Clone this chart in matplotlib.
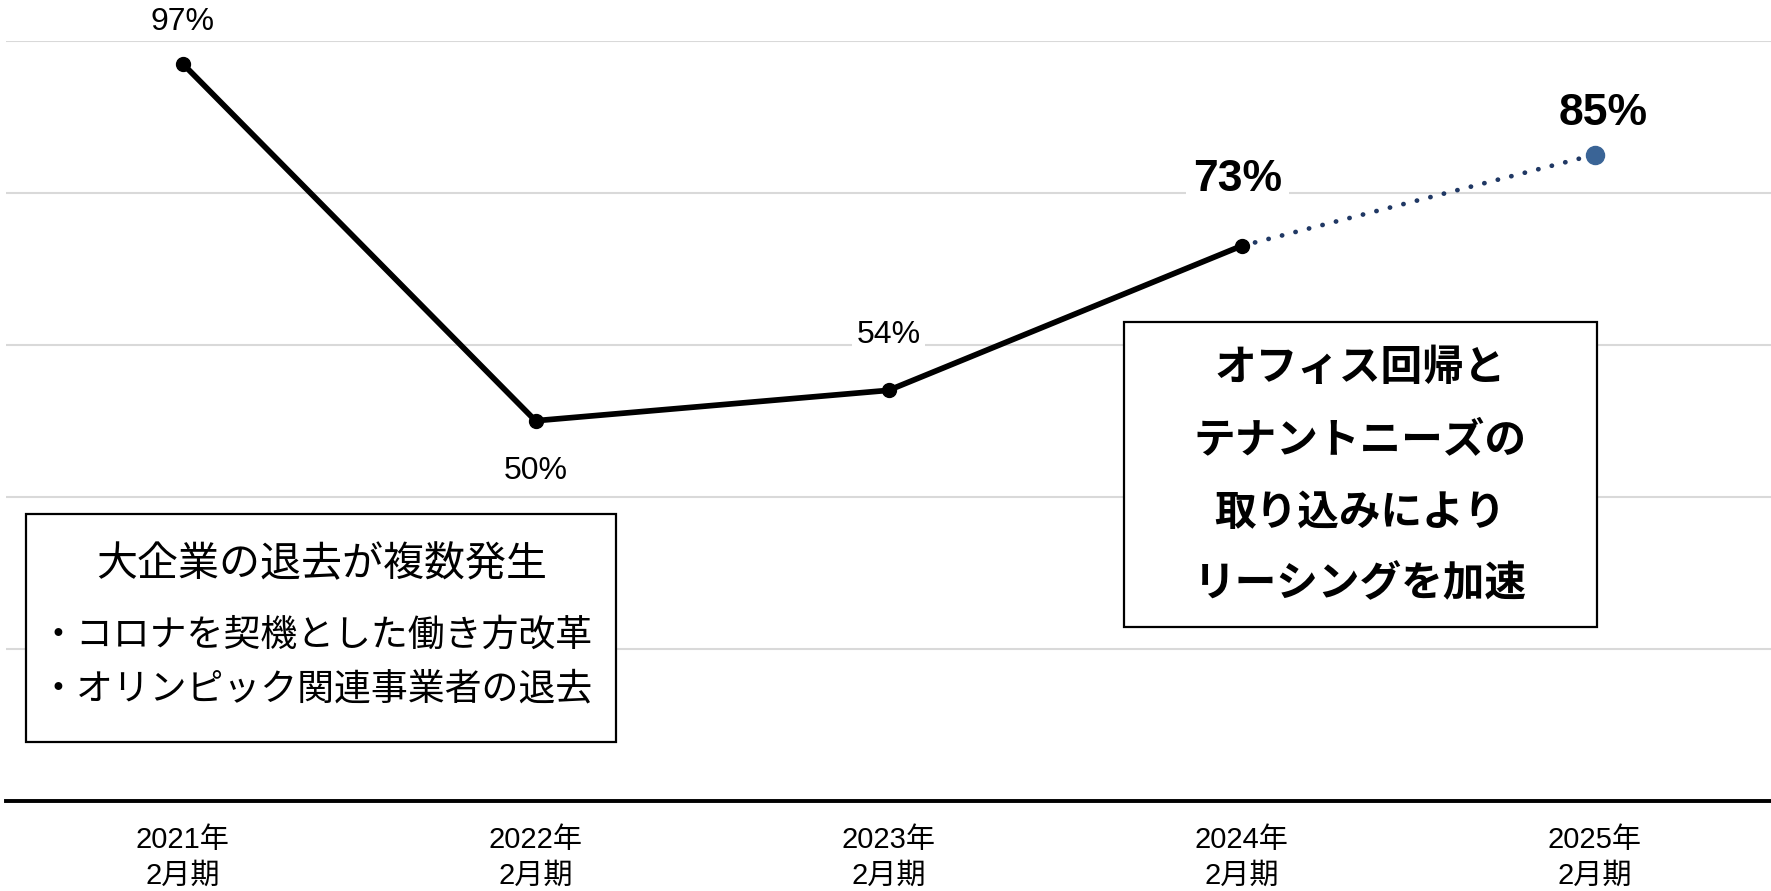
import matplotlib
matplotlib.use("Agg")
import matplotlib.pyplot as plt
from matplotlib.patches import Rectangle

plt.rcParams['font.family'] = ['Liberation Sans', 'Noto Sans CJK JP']

# data
periods = ['2021年\n2月期', '2022年\n2月期', '2023年\n2月期', '2024年\n2月期', '2025年\n2月期']
actual = [97, 50, 54, 73]
forecast = [73, 85]
labels = ['97%', '50%', '54%', '73%', '85%']
label_offsets = [(0, 30), (0, -36), (0, 40), (-3, 48), (6, 30)]
label_bold = [False, False, False, True, True]
label_boxed = [False, True, True, True, True]

left_title = '大企業の退去が複数発生'
left_bullets = ['・コロナを契機とした働き方改革', '・オリンピック関連事業者の退去']
right_lines = ['オフィス回帰と', 'テナントニーズの', '取り込みにより', 'リーシングを加速']

W, H = 1771, 891
fig = plt.figure(figsize=(W / 100, H / 100), dpi=100)
ax = fig.add_axes([6 / W, (H - 800.8) / H, 1 - 6 / W, (800.8 - 40.7) / H])

x_act = list(range(len(actual)))
x_fc = [len(actual) - 1, len(actual)]

ax.plot(x_fc, forecast, color='#203864', lw=3.4, ls=(0, (0.05, 2.9)),
        dash_capstyle='round', zorder=3)
ax.plot(x_fc[1], forecast[1], 'o', color='#3A6496', ms=13, zorder=4)
ax.plot(x_act, actual, color='black', lw=4.1, marker='o', ms=10, zorder=5)

values = actual + forecast[1:]
for i, (v, lab) in enumerate(zip(values, labels)):
    bold = label_bold[i]
    box = dict(boxstyle='square,pad=0.15', fc='white', ec='none') if label_boxed[i] else None
    ax.annotate(lab, (i, v), xytext=label_offsets[i], textcoords='offset points',
                ha='center', va='center', fontsize=32 if bold else 23,
                fontweight='bold' if bold else 'normal', annotation_clip=False,
                bbox=box, zorder=6)

ax.set_xlim(-0.5, len(periods) - 0.5)
ax.set_ylim(0, 100)
ax.set_yticks([20, 40, 60, 80, 100])
ax.yaxis.grid(True, color='#D9D9D9', lw=1.5)
ax.set_axisbelow(True)
ax.tick_params(axis='y', left=False, labelleft=False)
ax.set_xticks(range(len(periods)))
ax.set_xticklabels(periods, fontsize=21, linespacing=1.38)
ax.tick_params(axis='x', length=0, pad=18)
for s in ['top', 'right', 'left']:
    ax.spines[s].set_visible(False)
ax.spines['bottom'].set_linewidth(2.8)
ax.spines['bottom'].set_color('black')


def fx(px):
    return px / W


def fy(py):
    return 1 - py / H


# left box
fig.patches.append(Rectangle((fx(26), fy(742)), fx(615.6 - 26), (742 - 514) / H,
                             transform=fig.transFigure, fill=True, fc='white',
                             ec='black', lw=1.6, zorder=10))
fig.text(fx(322), fy(565), left_title, ha='center', va='center', fontsize=29.5, zorder=11)
fig.text(fx(40), fy(636), left_bullets[0], ha='left', va='center', fontsize=26.6, zorder=11)
fig.text(fx(40), fy(690), left_bullets[1], ha='left', va='center', fontsize=26.6, zorder=11)

# right box
fig.patches.append(Rectangle((fx(1124), fy(627)), fx(1597 - 1124), (627 - 322) / H,
                             transform=fig.transFigure, fill=True, fc='white',
                             ec='black', lw=1.6, zorder=10))
for line, py in zip(right_lines, [369, 442, 514, 585]):
    fig.text(fx(1360), fy(py), line, ha='center', va='center', fontsize=30,
             fontweight='bold', zorder=11)

fig.savefig('out.png', dpi=100)
